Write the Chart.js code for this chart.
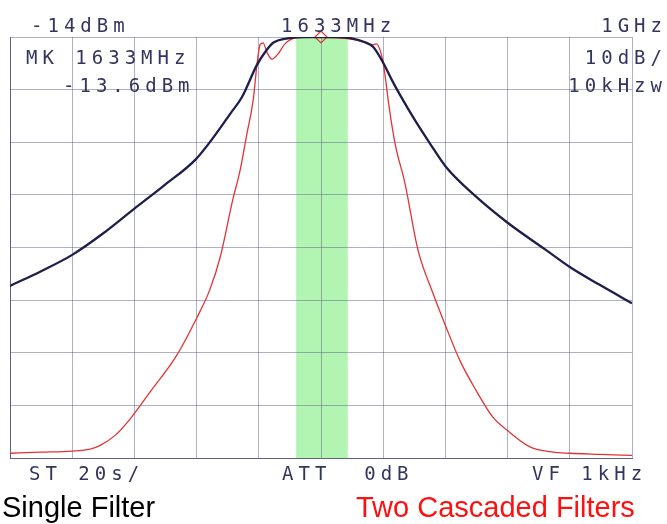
<!DOCTYPE html>
<html>
<head>
<meta charset="utf-8">
<script src="https://cdn.jsdelivr.net/npm/chart.js@4.4.1/dist/chart.umd.min.js"></script>
<style>
  html, body { margin: 0; padding: 0; background: #ffffff; }
  #wrap { position: relative; width: 667px; height: 524px; overflow: hidden; background: #fff; }
  #c { position: absolute; left: 0; top: 0; }
  .inst { position: absolute; font-family: "DejaVu Sans Mono", monospace; font-size: 19px; line-height: 19px;
          letter-spacing: 5px; color: #34345e; white-space: pre; }
  .lbl { position: absolute; font-family: "Liberation Sans", Arial, sans-serif; font-size: 29px; line-height: 29px; white-space: pre; }
</style>
</head>
<body>
<div id="wrap">
  <canvas id="c" width="667" height="524"></canvas>
  <div class="inst" style="left:31px; top:16px;">-14dBm</div>
  <div class="inst" style="left:281px; top:16px;">1633MHz</div>
  <div class="inst" style="right:0px; top:16px;">1GHz</div>
  <div class="inst" style="left:26px; top:48px;">MK 1633MHz</div>
  <div class="inst" style="right:0px; top:48px;">10dB/</div>
  <div class="inst" style="left:63px; top:76px;">-13.6dBm</div>
  <div class="inst" style="right:0px; top:76px;">10kHzw</div>
  <div class="inst" style="left:29px; top:464px;">ST 20s/</div>
  <div class="inst" style="left:282px; top:464px;">ATT  0dB</div>
  <div class="inst" style="left:532px; top:464px;">VF 1kHz</div>
  <div class="lbl" style="left:2px; top:493px; color:#000;">Single Filter</div>
  <div class="lbl" style="left:356px; top:493px; color:#ff1010;">Two Cascaded Filters</div>
</div>
<script>
// Frequency axis: centre 1633 MHz, span 1 GHz (100 MHz/div); level axis: ref -14 dBm, 10 dB/div
const freqRange = [1133, 2133];
const levelRange = [-94, -14];
const passband = [1593, 1676];

// Single filter trace (MHz, dBm)
const singleFreq  = [1133, 1183, 1233, 1283, 1332, 1382, 1432, 1463, 1487, 1506, 1530, 1543, 1556, 1583, 1610, 1633, 1660, 1680, 1704, 1717, 1733, 1747, 1760, 1784, 1808, 1834, 1881, 1932, 1995, 2033, 2081, 2133];
const singleLevel = [-61.3, -58.5, -55.4, -51.3, -46.7, -42.1, -37.2, -32.6, -28.6, -25.4, -19.3, -16.9, -15.1, -14.2, -14.0, -14.0, -14.0, -14.2, -15.0, -15.9, -18.9, -22.2, -25.0, -29.8, -34.2, -38.7, -44.2, -49.2, -54.5, -57.7, -61.1, -64.6];

// Two cascaded filters trace (MHz, dBm)
const cascadeFreq  = [1133, 1181, 1233, 1262, 1278, 1302, 1326, 1358, 1401, 1434, 1454, 1471, 1491, 1503, 1514, 1524, 1530, 1535, 1540, 1546, 1554, 1564, 1575, 1591, 1615, 1650, 1675, 1690, 1704, 1715, 1722, 1728, 1733, 1738, 1741, 1752, 1768, 1789, 1813, 1834, 1856, 1882, 1909, 1932, 1969, 2006, 2033, 2081, 2133];
const cascadeLevel = [-93.1, -92.9, -92.7, -92.3, -91.6, -89.7, -86.6, -81.5, -74.5, -67.2, -62.1, -55.8, -45.0, -39.3, -32.3, -26.0, -19.3, -15.5, -15.1, -16.9, -18.2, -17.2, -15.3, -14.2, -14.0, -14.1, -14.3, -14.6, -15.1, -15.5, -15.3, -16.5, -18.9, -23.1, -26.0, -34.2, -41.8, -54.5, -62.7, -69.1, -75.4, -81.1, -86.2, -88.7, -91.9, -92.9, -93.1, -93.3, -93.5];

// Marker
const markerFreq = [1633];
const markerLevel = [-14.0];

const toPts = (xs, ys) => xs.map((x, i) => ({ x: x, y: ys[i] }));

const bandPlugin = {
  id: 'band',
  beforeDraw(chart) {
    const { ctx, chartArea, scales } = chart;
    const x0 = scales.x.getPixelForValue(passband[0]);
    const x1 = scales.x.getPixelForValue(passband[1]);
    ctx.save();
    ctx.fillStyle = '#b2f5b2';
    ctx.fillRect(x0, chartArea.top, x1 - x0, chartArea.bottom - chartArea.top);
    ctx.restore();
  }
};

const gridColor = 'rgba(95,95,140,0.5)';

new Chart(document.getElementById('c'), {
  type: 'line',
  data: {
    datasets: [
      {
        label: 'Single Filter',
        data: toPts(singleFreq, singleLevel),
        borderColor: '#1e1e4a',
        borderWidth: 2.3,
        pointRadius: 0,
        cubicInterpolationMode: 'monotone',
        fill: false
      },
      {
        label: 'Two Cascaded Filters',
        data: toPts(cascadeFreq, cascadeLevel),
        borderColor: '#e23434',
        borderWidth: 1.3,
        pointRadius: 0,
        cubicInterpolationMode: 'monotone',
        fill: false
      },
      {
        label: 'Marker',
        data: toPts(markerFreq, markerLevel),
        showLine: false,
        clip: false,
        pointStyle: 'rectRot',
        pointRadius: 6,
        pointBorderColor: '#e23434',
        pointBackgroundColor: 'rgba(0,0,0,0)',
        pointBorderWidth: 1.2
      }
    ]
  },
  options: {
    responsive: false,
    animation: false,
    devicePixelRatio: 1,
    layout: { padding: { left: 10, right: 35, top: 37, bottom: 66 } },
    plugins: { legend: { display: false }, tooltip: { enabled: false } },
    scales: {
      x: {
        type: 'linear', min: freqRange[0], max: freqRange[1],
        ticks: { display: false, stepSize: 100 },
        grid: { color: gridColor, lineWidth: 1, drawTicks: false },
        border: { color: 'rgba(70,70,110,0.75)', width: 1 }
      },
      y: {
        min: levelRange[0], max: levelRange[1],
        ticks: { display: false, stepSize: 10 },
        grid: { color: gridColor, lineWidth: 1, drawTicks: false },
        border: { color: 'rgba(70,70,110,0.75)', width: 1 }
      }
    }
  },
  plugins: [bandPlugin]
});
</script>
</body>
</html>
